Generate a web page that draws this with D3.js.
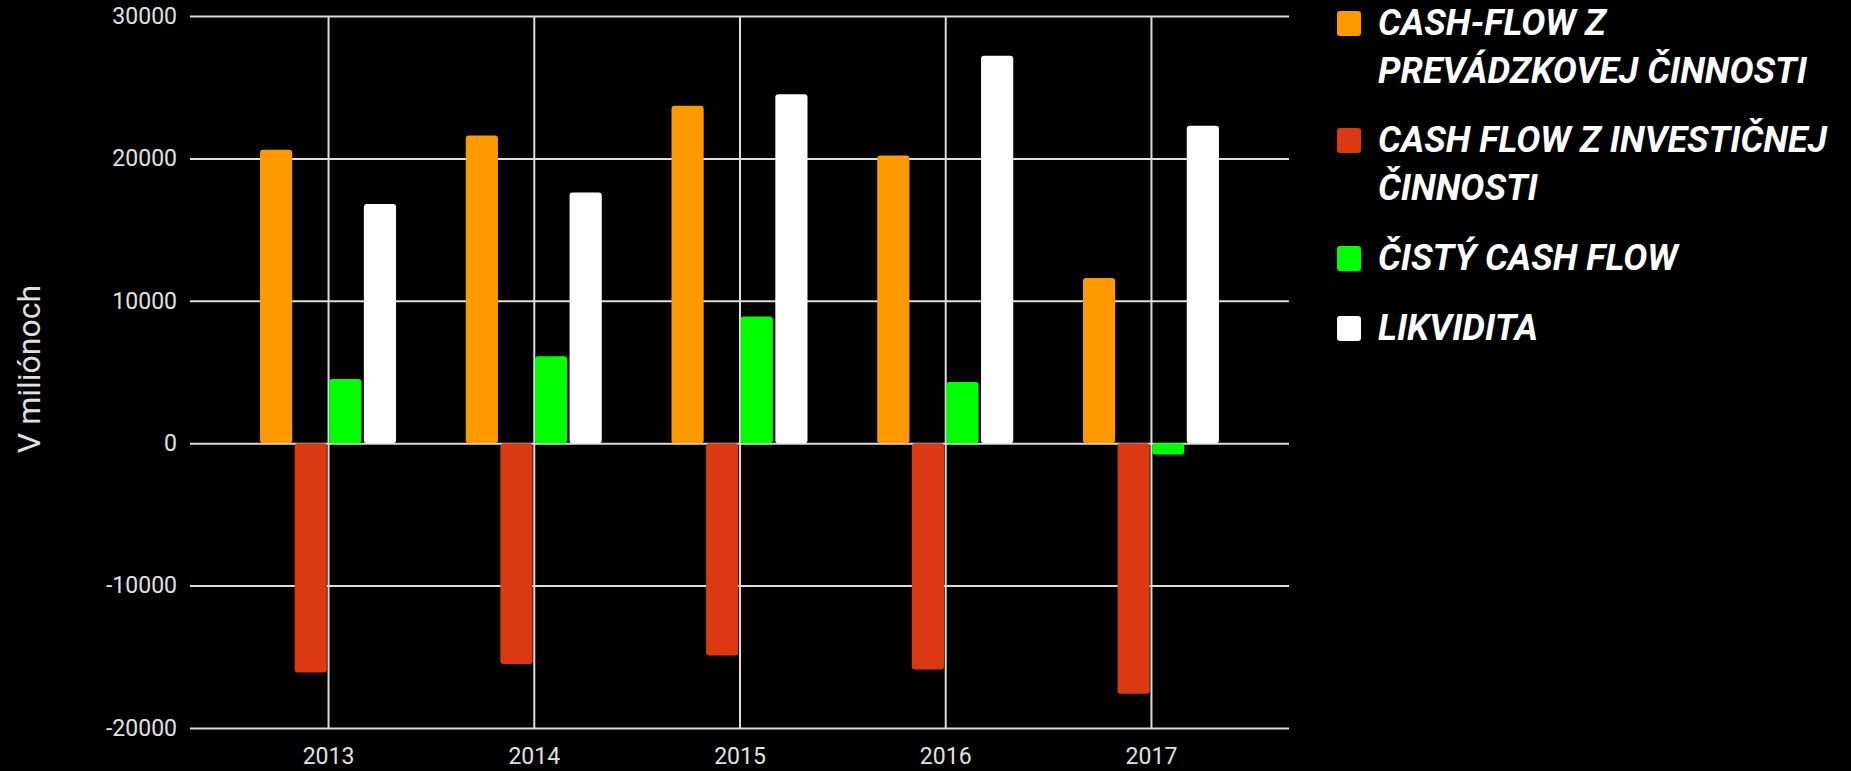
<!DOCTYPE html>
<html>
<head>
<meta charset="utf-8">
<script src="https://cdn.jsdelivr.net/npm/d3@7"></script>
<style>
  html, body { margin: 0; padding: 0; background: #000; }
  svg { display: block; }
</style>
</head>
<body>
<div class="chart"></div>
<script>
// chart data
const years = ['2013', '2014', '2015', '2016', '2017'];
const seriesNames = [
  ['CASH-FLOW Z', 'PREVÁDZKOVEJ ČINNOSTI'],
  ['CASH FLOW Z INVESTIČNEJ', 'ČINNOSTI'],
  ['ČISTÝ CASH FLOW'],
  ['LIKVIDITA']
];
const seriesColors = ['#ff9900', '#dc3912', '#00ff00', '#ffffff'];
const prevadzkova = [20600, 21600, 23700, 20200, 11600];
const investicna = [-16100, -15500, -14900, -15900, -17600];
const cisty = [4500, 6100, 8900, 4300, -800];
const likvidita = [16800, 17600, 24500, 27200, 22300];
const yTicks = [-20000, -10000, 0, 10000, 20000, 30000];

(function() {
  let svg = d3.select('.chart').append('svg')
    .attr('width', 1851)
    .attr('height', 771);

  let series = [prevadzkova, investicna, cisty, likvidita];

  // plot area
  let left = 190, right = 1289, top = 16, bottom = 728;

  let y = d3.scaleLinear()
    .domain([-20000, 30000])
    .range([bottom, top]);

  let x = d3.scalePoint()
    .domain(years)
    .range([left, right])
    .padding(0.671);

  let inner = d3.scaleBand()
    .domain(d3.range(series.length))
    .range([-68, 68])
    .paddingInner(0.07);

  // y axis + horizontal grid (plain hyphen for negatives)
  let yAxis = svg.append('g')
    .attr('transform', 'translate(' + left + ',0)')
    .call(d3.axisLeft(y).tickValues(yTicks).tickSize(-(right - left)).tickPadding(13).tickFormat((d) => String(d)));
  yAxis.select('.domain').remove();
  yAxis.selectAll('line').attr('stroke', '#dddddd').attr('stroke-width', 2);
  yAxis.selectAll('text')
    .attr('fill', '#e0e0e0')
    .style('font-family', 'Roboto')
    .style('font-size', '23px');

  // x axis + vertical grid
  let xAxis = svg.append('g')
    .attr('transform', 'translate(0,' + bottom + ')')
    .call(d3.axisBottom(x).tickSize(-(bottom - top)).tickPadding(20));
  xAxis.select('.domain').remove();
  xAxis.selectAll('line').attr('stroke', '#dddddd').attr('stroke-width', 2);
  xAxis.selectAll('text')
    .attr('fill', '#e0e0e0')
    .style('font-family', 'Roboto')
    .style('font-size', '23px');

  // bars
  series.forEach(function(values, s) {
    svg.append('g').selectAll('rect')
      .data(values)
      .enter()
      .append('rect')
        .attr('x', (d, i) => x(years[i]) + inner(s))
        .attr('y', (d) => y(Math.max(0, d)))
        .attr('width', inner.bandwidth())
        .attr('height', (d) => Math.abs(y(d) - y(0)))
        .attr('rx', 3)
        .attr('fill', seriesColors[s]);
  });

  // y title
  svg.append('text')
    .attr('transform', 'translate(40, 369)rotate(-90)')
    .attr('text-anchor', 'middle')
    .attr('fill', '#e0e0e0')
    .style('font-family', 'Roboto')
    .style('font-size', '32px')
    .text('V miliónoch');

  // legend
  let legendTops = [35, 152, 270, 340];
  let legend = svg.append('g');
  seriesNames.forEach(function(lines, s) {
    legend.append('rect')
      .attr('x', 1337)
      .attr('y', legendTops[s] - 24)
      .attr('width', 24)
      .attr('height', 25)
      .attr('rx', 3)
      .attr('fill', seriesColors[s]);
    let t = legend.append('text')
      .attr('x', 1378)
      .attr('y', legendTops[s])
      .attr('fill', '#ffffff')
      .style('font-family', 'Roboto')
      .style('font-weight', 'bold')
      .style('font-style', 'italic')
      .style('font-size', '36px');
    lines.forEach(function(line, k) {
      t.append('tspan')
        .attr('x', 1378)
        .attr('dy', k === 0 ? 0 : 48)
        .text(line);
    });
  });
})();
</script>
</body>
</html>
